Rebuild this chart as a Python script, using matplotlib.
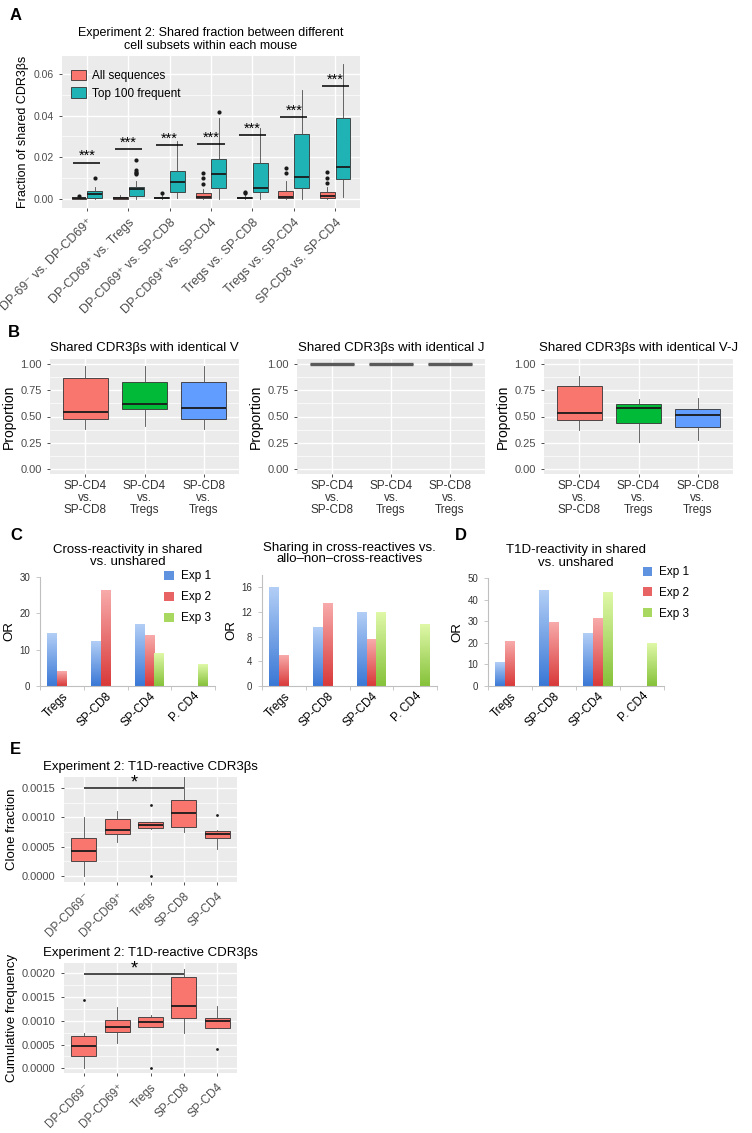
import numpy as np
import matplotlib.pyplot as plt
from matplotlib.patches import Patch
from matplotlib.colors import LinearSegmentedColormap

plt.rcParams['font.family'] = ['Liberation Sans', 'DejaVu Sans']

# ---- panel A: shared fraction between subsets (Experiment 2)
pairs = ["DP-69⁻ vs. DP-CD69⁺", "DP-CD69⁺ vs. Tregs", "DP-CD69⁺ vs. SP-CD8",
         "DP-CD69⁺ vs. SP-CD4", "Tregs vs. SP-CD8", "Tregs vs. SP-CD4", "SP-CD8 vs. SP-CD4"]
all_lo = [0.0, 0.0, 0.0, 0.0, 0.0, 0.0, 0.0]
all_q1 = [0.0001, 0.0002, 0.0003, 0.0003, 0.0003, 0.0003, 0.0003]
all_med = [0.0003, 0.0006, 0.0007, 0.0008, 0.0006, 0.0011, 0.0016]
all_q3 = [0.0006, 0.0010, 0.0011, 0.0029, 0.0010, 0.0037, 0.0033]
all_hi = [0.0010, 0.0019, 0.0020, 0.0048, 0.0022, 0.0087, 0.0060]
all_out = [[0.0013], [], [0.0030], [0.0071, 0.0099, 0.0127], [0.0027, 0.0033],
           [0.0127, 0.0151], [0.0076, 0.0103, 0.0132]]
top_lo = [0.0000, 0.0002, 0.0006, 0.0000, 0.0000, 0.0000, 0.0008]
top_q1 = [0.0003, 0.0013, 0.0032, 0.0051, 0.0033, 0.0052, 0.0098]
top_med = [0.0025, 0.0049, 0.0082, 0.0122, 0.0054, 0.0106, 0.0152]
top_q3 = [0.0037, 0.0059, 0.0133, 0.0190, 0.0171, 0.0311, 0.0390]
top_hi = [0.0056, 0.0085, 0.0280, 0.0390, 0.0340, 0.0524, 0.0650]
top_out = [[0.0100], [0.0119, 0.0125, 0.0132, 0.0140, 0.0189], [], [0.0417], [], [], []]
sig_y = [0.0175, 0.0241, 0.0259, 0.0263, 0.0306, 0.0394, 0.0543]

# ---- panel B: identical V / J / V-J
b_groups = ["SP-CD4\nvs.\nSP-CD8", "SP-CD4\nvs.\nTregs", "SP-CD8\nvs.\nTregs"]
b_titles = ["Shared CDR3βs with identical V", "Shared CDR3βs with identical J",
            "Shared CDR3βs with identical V-J"]
v_lo, v_q1, v_med, v_q3, v_hi = [0.38, 0.41, 0.38], [0.48, 0.57, 0.48], [0.54, 0.62, 0.58], [0.87, 0.83, 0.83], [0.98, 0.98, 0.98]
j_lo, j_q1, j_med, j_q3, j_hi = [1.0, 1.0, 1.0], [1.0, 1.0, 1.0], [1.0, 1.0, 1.0], [1.0, 1.0, 1.0], [1.0, 1.0, 1.0]
vj_lo, vj_q1, vj_med, vj_q3, vj_hi = [0.37, 0.26, 0.28], [0.47, 0.44, 0.40], [0.53, 0.58, 0.51], [0.79, 0.62, 0.57], [0.89, 0.67, 0.68]

# ---- panels C, D: odds ratios
or_cats = ["Tregs", "SP-CD8", "SP-CD4", "P. CD4"]
exp_names = ["Exp 1", "Exp 2", "Exp 3"]
nan = np.nan
c1_exp1 = [14.5, 12.3, 16.9, nan]
c1_exp2 = [4.0, 26.3, 13.9, nan]
c1_exp3 = [nan, nan, 9.0, 5.8]
c2_exp1 = [16.0, 9.5, 11.9, nan]
c2_exp2 = [4.9, 13.4, 7.5, nan]
c2_exp3 = [nan, nan, 11.9, 10.0]
d_exp1 = [10.8, 44.0, 24.5, nan]
d_exp2 = [20.8, 29.3, 31.3, nan]
d_exp3 = [nan, nan, 43.5, 19.8]

# ---- panel E: T1D-reactive CDR3βs
e_cats = ["DP-CD69⁻", "DP-CD69⁺", "Tregs", "SP-CD8", "SP-CD4"]
cf_lo = [0.0, 0.000575, 0.00081, 0.000745, 0.00046]
cf_q1 = [0.000256, 0.00071, 0.000814, 0.00083, 0.000643]
cf_med = [0.00042, 0.000785, 0.000865, 0.00107, 0.000717]
cf_q3 = [0.00065, 0.00098, 0.000916, 0.0013, 0.000763]
cf_hi = [0.00101, 0.00111, 0.00093, 0.00169, 0.00078]
cf_out = [[], [], [0.0, 0.00122], [], [0.00105]]
cu_lo = [0.0, 0.00054, 0.00086, 0.00075, 0.00084]
cu_q1 = [0.00026, 0.00076, 0.00086, 0.00105, 0.00084]
cu_med = [0.00047, 0.00088, 0.00097, 0.00132, 0.00100]
cu_q3 = [0.00068, 0.00102, 0.00109, 0.00192, 0.00105]
cu_hi = [0.00074, 0.00130, 0.00112, 0.00210, 0.00131]
cu_out = [[0.00144], [], [0.0], [], [0.00041]]

W, H = 752, 1133
fig = plt.figure(figsize=(W / 100, H / 100), dpi=100)


def px_axes(x0, y0, x1, y1):
    return fig.add_axes([x0 / W, 1 - y1 / H, (x1 - x0) / W, (y1 - y0) / H])


RED, TEAL = '#F8766D', '#1FB3B6'
GG3 = ['#F8766D', '#00BA38', '#619CFF']
TXT = '#4D4D4D'


def gg_style(ax):
    ax.set_facecolor('#EBEBEB')
    for s in ax.spines.values():
        s.set_visible(False)
    ax.grid(True, which='major', color='white', lw=1.0)
    ax.grid(True, which='minor', color='white', lw=0.5)
    ax.set_axisbelow(True)
    ax.tick_params(which='major', length=2.5, width=0.6, color='#333333', labelcolor=TXT)
    ax.tick_params(which='minor', length=0)


def stats(lo, q1, med, q3, hi, out=None):
    if out is None:
        out = [[] for _ in lo]
    return [dict(whislo=a, q1=b, med=c, q3=d, whishi=e, fliers=f)
            for a, b, c, d, e, f in zip(lo, q1, med, q3, hi, out)]


def boxes(ax, st, pos, width, color, ms=3.0, edge='#333333', mcol='#1A1A1A', mlw=1.3):
    ax.bxp(st, positions=pos, widths=width, patch_artist=True, showcaps=False,
           boxprops=dict(facecolor=color, edgecolor=edge, lw=0.6),
           medianprops=dict(color=mcol, lw=mlw),
           whiskerprops=dict(color='#4D4D4D', lw=0.6),
           flierprops=dict(marker='o', ms=ms, mfc='#1A1A1A', mec='none'),
           manage_ticks=False)


def label(x, y, s):
    fig.text(x / W, 1 - y / H, s, fontsize=12, fontweight='bold', ha='left', va='center')


# ================= A
axA = px_axes(62, 56, 360, 208)
gg_style(axA)
xa = np.arange(1, 8)
boxes(axA, stats(all_lo, all_q1, all_med, all_q3, all_hi, all_out), xa - 0.19, 0.36, RED)
boxes(axA, stats(top_lo, top_q1, top_med, top_q3, top_hi, top_out), xa + 0.19, 0.36, TEAL)
axA.hlines(sig_y, xa - 0.33, xa + 0.33, color='black', lw=1.1)
for x, y in zip(xa, sig_y):
    axA.text(x, y + 0.0011, '***', ha='center', va='baseline', fontsize=10.5)
axA.set_xlim(0.4, 7.6)
axA.set_ylim(-0.0043, 0.0686)
axA.set_yticks([0, 0.02, 0.04, 0.06])
axA.set_yticklabels(['0.00', '0.02', '0.04', '0.06'], fontsize=7.5)
axA.set_yticks([0.01, 0.03, 0.05], minor=True)
axA.set_xticks(xa)
axA.set_xticklabels(pairs, rotation=45, ha='right', rotation_mode='anchor', fontsize=9)
axA.set_ylabel('Fraction of shared CDR3βs', fontsize=9, labelpad=3)
axA.set_title('Experiment 2: Shared fraction between different\ncell subsets within each mouse',
              fontsize=9, pad=5, linespacing=1.1)
hA = [Patch(facecolor=RED, edgecolor='#333333', lw=0.6), Patch(facecolor=TEAL, edgecolor='#333333', lw=0.6)]
axA.legend(hA, ['All sequences', 'Top 100 frequent'], loc='upper left', bbox_to_anchor=(0.03, 0.91),
           frameon=False, fontsize=8.5, handlelength=1.3, handleheight=1.0, labelspacing=0.45,
           handletextpad=0.5, borderaxespad=0, borderpad=0)
label(10, 16, 'A')

# ================= B
b_sets = [(v_lo, v_q1, v_med, v_q3, v_hi), (j_lo, j_q1, j_med, j_q3, j_hi),
          (vj_lo, vj_q1, vj_med, vj_q3, vj_hi)]
b_x = [(50, 239), (297, 485), (544, 733)]
for (x0, x1), title, (lo, q1, med, q3, hi) in zip(b_x, b_titles, b_sets):
    ax = px_axes(x0, 359, x1, 474)
    gg_style(ax)
    st = stats(lo, q1, med, q3, hi)
    for i in range(3):
        if q1[i] == q3[i]:
            # degenerate box: all values equal, drawn as a thick grey bar
            boxes(ax, [st[i]], [i + 1], 0.75, '#5A5A5A', edge='#5A5A5A', mcol='#5A5A5A', mlw=2.4)
        else:
            boxes(ax, [st[i]], [i + 1], 0.75, GG3[i])
    ax.set_xlim(0.4, 3.6)
    ax.set_ylim(-0.05, 1.05)
    ax.set_yticks([0, 0.25, 0.5, 0.75, 1.0])
    ax.set_yticklabels(['0.00', '0.25', '0.50', '0.75', '1.00'], fontsize=8)
    ax.set_yticks([0.125, 0.375, 0.625, 0.875], minor=True)
    ax.set_xticks([1, 2, 3])
    ax.set_xticklabels(b_groups, fontsize=8.5, linespacing=1.0, color='#333333')
    ax.tick_params(axis='x', pad=2)
    ax.set_ylabel('Proportion', fontsize=10, labelpad=3)
    ax.set_title(title, fontsize=9.5, pad=6)
label(8, 332, 'B')

# ================= C, D
grad = np.linspace(0, 1, 64).reshape(-1, 1)
ramps = [('#3A78D6', '#B2CEF6'), ('#D93A3A', '#F8AAAA'), ('#86C23A', '#DFF8A8')]
xo = np.arange(4)


def or_panel(ax, series, ymax, yt, title):
    for k, (vals, (dark, light)) in enumerate(zip(series, ramps)):
        cm = LinearSegmentedColormap.from_list('r%d' % k, [dark, light])
        off = (k - 1) * 0.222
        for x, v in zip(xo, vals):
            if np.isnan(v):
                continue
            ax.imshow(grad, extent=[x + off - 0.111, x + off + 0.111, 0, v], cmap=cm,
                      aspect='auto', origin='lower', zorder=2)
    ax.set_xlim(-0.5, 3.5)
    ax.set_ylim(0, ymax)
    for s in ['top', 'right']:
        ax.spines[s].set_visible(False)
    for s in ['left', 'bottom']:
        ax.spines[s].set_color('#BFBFBF')
        ax.spines[s].set_linewidth(0.8)
    ax.set_yticks(yt)
    ax.set_yticklabels([str(t) for t in yt], fontsize=7, color='#333333')
    ax.tick_params(axis='y', length=3, width=0.6, color='#BFBFBF', pad=4)
    ax.set_xticks(xo)
    ax.set_xticklabels(or_cats, rotation=45, ha='right', rotation_mode='anchor', fontsize=8.5)
    ax.tick_params(axis='x', length=0, pad=3)
    ax.set_xticks(np.arange(-0.5, 4), minor=True)
    ax.tick_params(axis='x', which='minor', length=3, width=0.6, color='#BFBFBF')
    ax.set_ylabel('OR', fontsize=9.5, labelpad=3)
    ax.set_title(title, fontsize=9.5, pad=9, linespacing=1.0)


def or_legend(ax, bx, by):
    hs = [Patch(facecolor=c, edgecolor='none') for c in ['#5F93E0', '#E86363', '#A8D85F']]
    ax.legend(hs, exp_names, loc='upper left', bbox_to_anchor=(bx, by), frameon=False,
              fontsize=8.5, handlelength=0.8, handleheight=0.8, handletextpad=0.6,
              labelspacing=0.75, borderaxespad=0, borderpad=0)


axC1 = px_axes(40, 577, 215, 686)
or_panel(axC1, [c1_exp1, c1_exp2, c1_exp3], 30, [0, 10, 20, 30],
         'Cross-reactivity in shared\nvs. unshared')
or_legend(axC1, 0.71, 1.06)
axC2 = px_axes(262, 575, 437, 686)
or_panel(axC2, [c2_exp1, c2_exp2, c2_exp3], 18, [0, 4, 8, 12, 16],
         'Sharing in cross-reactives vs.\nallo\u2013non\u2013cross-reactives')
axD = px_axes(488, 578, 664, 686)
or_panel(axD, [d_exp1, d_exp2, d_exp3], 50, [0, 10, 20, 30, 40, 50],
         'T1D-reactivity in shared\nvs. unshared')
or_legend(axD, 0.88, 1.11)
label(10, 535, 'C')
label(455, 535, 'D')

# ================= E
xe = np.arange(1, 6)
e_sets = [(stats(cf_lo, cf_q1, cf_med, cf_q3, cf_hi, cf_out), (777, 882), (-0.0001, 0.00169),
           [0, 0.0005, 0.0010, 0.0015], 'Clone fraction', 0.0015),
          (stats(cu_lo, cu_q1, cu_med, cu_q3, cu_hi, cu_out), (963, 1073), (-0.0001, 0.00222),
           [0, 0.0005, 0.0010, 0.0015, 0.0020], 'Cumulative frequency', 0.00199)]
for st, (y0, y1), yl, yt, ylab, sy in e_sets:
    ax = px_axes(64, y0, 237, y1)
    gg_style(ax)
    boxes(ax, st, xe, 0.75, RED, ms=2.0)
    ax.hlines(sy, 1, 4, color='#1A1A1A', lw=1.1)
    ax.text(2.5, sy + (yl[1] - yl[0]) * 0.005, '*', ha='center', va='baseline', fontsize=13)
    ax.set_xlim(0.4, 5.6)
    ax.set_ylim(*yl)
    ax.set_yticks(yt)
    ax.set_yticklabels(['%.4f' % t for t in yt], fontsize=8)
    ax.set_yticks(np.array(yt[:-1]) + 0.00025, minor=True)
    ax.set_xticks(xe)
    ax.set_xticklabels(e_cats, rotation=45, ha='right', rotation_mode='anchor', fontsize=8.5)
    ax.set_ylabel(ylab, fontsize=9.5, labelpad=3)
    ax.set_title('Experiment 2: T1D-reactive CDR3βs', fontsize=9.5, pad=5)
label(10, 749, 'E')

fig.savefig('out.png', dpi=100)
